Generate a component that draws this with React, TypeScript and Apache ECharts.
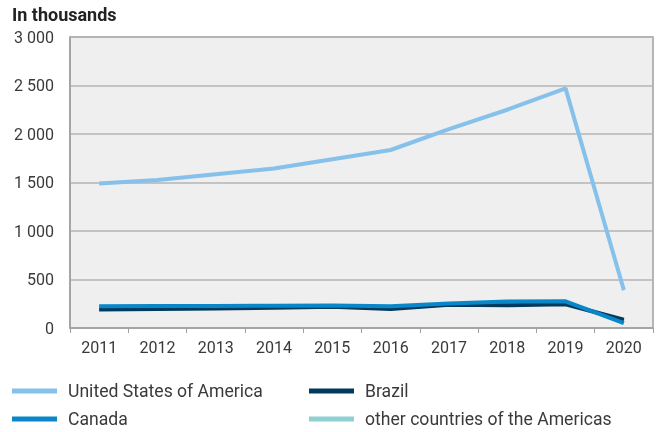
import React, { useEffect, useRef } from "react";
import * as echarts from "echarts";

const years = ["2011", "2012", "2013", "2014", "2015", "2016", "2017", "2018", "2019", "2020"];
const usa = [1490, 1525, 1585, 1645, 1740, 1835, 2050, 2250, 2470, 390];
const canada = [225, 228, 228, 230, 232, 225, 252, 272, 275, 50];
const brazil = [190, 195, 200, 210, 220, 195, 240, 235, 245, 85];
const others = [210, 212, 214, 218, 222, 212, 245, 255, 260, 70];

const FONT = "Roboto";

export default function App() {
  const ref = useRef<HTMLDivElement>(null);
  useEffect(() => {
    const chart = echarts.init(ref.current!, null, { renderer: "svg" });
    const legendItem = (name: string, left: number, top: number) => ({
      show: true,
      data: [name],
      left,
      top,
      itemWidth: 45,
      itemHeight: 5,
      icon: "rect",
      padding: 0,
      textStyle: { fontFamily: FONT, fontSize: 17.6, color: "#3a3a3a", lineHeight: 18, padding: [0, 0, 0, 6] },
      selectedMode: false,
    });
    chart.setOption({
      animation: false,
      title: {
        text: "In thousands",
        left: 12,
        top: 5,
        padding: 0,
        textStyle: { fontFamily: FONT, fontSize: 18, fontWeight: "bold", color: "#222" },
      },
      grid: {
        left: 70,
        right: 5,
        top: 37,
        bottom: 104,
        show: true,
        backgroundColor: "#efefef",
        borderColor: "#a0a0a0",
        borderWidth: 1.5,
      },
      legend: [
        legendItem("United States of America", 12, 382),
        legendItem("Brazil", 309, 382),
        legendItem("Canada", 12, 410),
        legendItem("other countries of the Americas", 309, 410),
      ],
      xAxis: {
        type: "category",
        data: years,
        boundaryGap: true,
        axisLine: { lineStyle: { color: "#a0a0a0", width: 1.5 } },
        axisTick: { show: true, length: 5, lineStyle: { color: "#a0a0a0" } },
        axisLabel: { fontFamily: FONT, fontSize: 16, color: "#3a3a3a", margin: 11 },
      },
      yAxis: {
        type: "value",
        min: 0,
        max: 3000,
        interval: 500,
        axisLine: { show: true, lineStyle: { color: "#a0a0a0", width: 1.5 } },
        axisTick: { show: false },
        splitLine: { lineStyle: { color: "#b4b4b4", width: 1.5 } },
        axisLabel: {
          fontFamily: FONT,
          fontSize: 16,
          color: "#3a3a3a",
          margin: 16,
          formatter: (v: number) => String(v).replace(/\B(?=(\d{3})+(?!\d))/g, " "),
        },
      },
      series: [
        { name: "other countries of the Americas", type: "line", data: others, symbol: "none", lineStyle: { width: 4, color: "#8fd0d3" }, itemStyle: { color: "#8fd0d3" } },
        { name: "Brazil", type: "line", data: brazil, symbol: "none", lineStyle: { width: 4, color: "#003a5d" }, itemStyle: { color: "#003a5d" } },
        { name: "Canada", type: "line", data: canada, symbol: "none", lineStyle: { width: 4, color: "#0a87c8" }, itemStyle: { color: "#0a87c8" } },
        { name: "United States of America", type: "line", data: usa, symbol: "none", lineStyle: { width: 4, color: "#85c1ea" }, itemStyle: { color: "#85c1ea" } },
      ],
    });
    return () => chart.dispose();
  }, []);
  return <div ref={ref} style={{ width: 658, height: 432, position: "fixed", left: 0, top: 0 }} />;
}
